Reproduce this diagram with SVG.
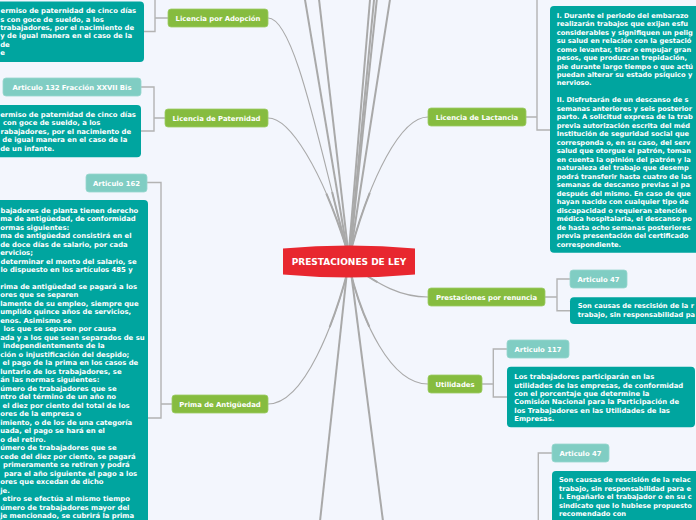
<svg xmlns="http://www.w3.org/2000/svg" width="696" height="520" viewBox="0 0 696 520">
<style>
.c{fill:none;stroke:#a9a9a9;stroke-width:1.1}
.ct{fill:none;stroke:#a9a9a9;stroke-width:2;stroke-dasharray:60 3000}
.ck{fill:none;stroke:#a9a9a9;stroke-width:2}
.br{fill:none;stroke:#b3b3b3;stroke-width:1.4}
.g{fill:#86bc3f;stroke:#9ccb66;stroke-width:0.8}
.lt{fill:#80cdc3;stroke:#98d7ce;stroke-width:0.8}
.dt{fill:#00a59f}
text{font-family:"DejaVu Sans",Verdana,sans-serif;font-weight:bold;font-size:6.85px;fill:#ffffff}
.m{text-anchor:middle}
.big{font-size:9px}
.r text{font-size:6.7px}
</style>
<rect width="696" height="520" fill="#f3f6fd"/>
<g id="connectors">
<line class="ck" x1="347" y1="250" x2="304.2" y2="-5"/>
<line class="ck" x1="348" y1="250" x2="318.5" y2="-5"/>
<line class="ck" x1="349" y1="250" x2="370.4" y2="-5"/>
<line class="ck" x1="350" y1="250" x2="374.5" y2="-5"/>
<line class="ck" x1="350.5" y1="250" x2="377.3" y2="-5"/>
<line class="ck" x1="351" y1="250" x2="390.7" y2="-5"/>
<line class="ck" x1="347" y1="272" x2="319.6" y2="525"/>
<line class="ck" x1="351" y1="272" x2="383.5" y2="525"/>
<path class="c" d="M347,250 C320,150 295,18 268,18"/>
<path class="ct" d="M347,250 C320,150 295,18 268,18"/>
<path class="c" d="M347,250 C322,170 290,118 268,118"/>
<path class="ct" d="M347,250 C322,170 290,118 268,118"/>
<path class="c" d="M351,250 C370,180 400,117 428,117"/>
<path class="ct" d="M351,250 C370,180 400,117 428,117"/>
<path class="c" d="M352,266 C380,285 400,297 428,297"/>
<path class="ct" d="M352,266 C380,285 400,297 428,297" style="stroke-dasharray:30 3000"/>
<path class="c" d="M350,270 C362,320 390,384 428,384"/>
<path class="ct" d="M350,270 C362,320 390,384 428,384"/>
<path class="c" d="M348,270 C335,320 305,404 268,404"/>
<path class="ct" d="M348,270 C335,320 305,404 268,404"/>
<path class="br" d="M155,-5 V31.5 H144 M155,18 H168"/>
<path class="br" d="M141,87 H154 V131 H141 M154,118 H165"/>
<path class="br" d="M147,182.5 H161 V418 H148 M161,404 H172"/>
<path class="br" d="M537,-5 V130 H550 M526,117 H537"/>
<path class="br" d="M545,297 H557 M570,279 H557 V310.7 H570"/>
<path class="br" d="M482,384 H493.3 M507,349 H493.3 V397 H507"/>
<path class="br" d="M552,453 H538.3 V530"/>
</g>
<g id="center">
<path d="M283,248.5 Q349,242.5 415,248.5 L415,274.5 Q349,280.5 283,274.5 Z" fill="#e8272f"/>
<text class="m big" x="349" y="265.3">PRESTACIONES DE LEY</text>
</g>
<g id="licencia-adopcion">
<rect class="g" x="168" y="9" width="100" height="18" rx="3"/>
<text class="m" x="218" y="20.6">Licencia por Adopción</text>
</g>
<g id="adopcion-texto">
<rect class="dt" x="-60" y="1.5" width="204" height="60.5" rx="4"/>
<text x="0.5" y="13">ermiso de paternidad de cinco días</text>
<text x="0.2" y="21.5">s con goce de sueldo, a los</text>
<text x="0.2" y="30">trabajadores, por el nacimiento de</text>
<text x="0.2" y="38.4">y de igual manera en el caso de la</text>
<text x="0.2" y="46.9">de</text>
<text x="0.2" y="55.4">e</text>
</g>
<g id="art132">
<rect class="lt" x="3" y="78" width="138" height="18" rx="3"/>
<text class="m" x="72" y="89.6">Articulo 132 Fracción XXVII Bis</text>
</g>
<g id="licencia-paternidad">
<rect class="g" x="165" y="109" width="103" height="18" rx="3"/>
<text class="m" x="216.5" y="120.6">Licencia de Paternidad</text>
</g>
<g id="paternidad-texto">
<rect class="dt" x="-60" y="105" width="201" height="52.3" rx="4"/>
<text x="0.2" y="116.6">ermiso de paternidad de cinco días</text>
<text x="3" y="125.1">con goce de sueldo, a los</text>
<text x="0.5" y="133.6">rabajadores, por el nacimiento de</text>
<text x="2.3" y="142">de igual manera en el caso de la</text>
<text x="0.2" y="150.5">de un infante.</text>
</g>
<g id="art162">
<rect class="lt" x="86" y="174" width="61" height="18" rx="3"/>
<text class="m" x="116.5" y="185.6">Articulo 162</text>
</g>
<g id="prima-antiguedad">
<rect class="g" x="172" y="395" width="96" height="18" rx="3"/>
<text class="m" x="220" y="406.6">Prima de Antigüedad</text>
</g>
<g id="prima-texto">
<rect class="dt" x="-60" y="200" width="208" height="440" rx="4"/>
<text x="0.5" y="212.6">bajadores de planta tienen derecho</text>
<text x="0.2" y="221.1">ma de antigüedad, de conformidad</text>
<text x="0.2" y="229.6">ormas siguientes:</text>
<text x="0.2" y="238">ma de antigüedad consistirá en el</text>
<text x="0.2" y="246.5">de doce días de salario, por cada</text>
<text x="0.2" y="255">ervicios;</text>
<text x="0.5" y="263.5">determinar el monto del salario, se</text>
<text x="0.5" y="272">lo dispuesto en los artículos 485 y</text>
<text x="0.3" y="288.9">rima de antigüedad se pagará a los</text>
<text x="0.2" y="297.4">ores que se separen</text>
<text x="0.2" y="305.9">lamente de su empleo, siempre que</text>
<text x="0.2" y="314.4">umplido quince años de servicios,</text>
<text x="0.2" y="322.9">enos. Asimismo se</text>
<text x="3.5" y="331.4">los que se separen por causa</text>
<text x="0.2" y="339.8">ada y a los que sean separados de su</text>
<text x="3" y="348.3">independientemente de la</text>
<text x="0.2" y="356.8">ción o injustificación del despido;</text>
<text x="2.5" y="365.3">el pago de la prima en los casos de</text>
<text x="0.2" y="373.8">luntario de los trabajadores, se</text>
<text x="0.2" y="382.3">án las normas siguientes:</text>
<text x="0.2" y="390.7">úmero de trabajadores que se</text>
<text x="0.2" y="399.2">ntro del término de un año no</text>
<text x="2.5" y="407.7">el diez por ciento del total de los</text>
<text x="0.2" y="416.2">ores de la empresa o</text>
<text x="0.2" y="424.7">imiento, o de los de una categoría</text>
<text x="0.2" y="433.2">uada, el pago se hará en el</text>
<text x="0.2" y="441.6">o del retiro.</text>
<text x="0.2" y="450.1">úmero de trabajadores que se</text>
<text x="0.2" y="458.6">cede del diez por ciento, se pagará</text>
<text x="3" y="467.1">primeramente se retiren y podrá</text>
<text x="4" y="475.6">para el año siguiente el pago a los</text>
<text x="0.2" y="484.1">ores que excedan de dicho</text>
<text x="0.2" y="492.5">je.</text>
<text x="2.5" y="501">etiro se efectúa al mismo tiempo</text>
<text x="0.2" y="509.5">úmero de trabajadores mayor del</text>
<text x="0.2" y="517.6">je mencionado, se cubrirá la prima</text>
</g>
<g id="licencia-lactancia">
<rect class="g" x="428" y="108" width="98" height="18" rx="3"/>
<text class="m" x="477" y="119.6">Licencia de Lactancia</text>
</g>
<g id="lactancia-texto" class="r">
<rect class="dt" x="550" y="6" width="200" height="246.7" rx="4"/>
<text x="556.7" y="17.6">I. Durante el periodo del embarazo</text>
<text x="556.7" y="26.1">realizarán trabajos que exijan esfu</text>
<text x="556.7" y="34.6">considerables y signifiquen un pelig</text>
<text x="556.7" y="43">su salud en relación con la gestació</text>
<text x="556.7" y="51.5">como levantar, tirar o empujar gran</text>
<text x="556.7" y="60">pesos, que produzcan trepidación,</text>
<text x="556.7" y="68.5">pie durante largo tiempo o que actú</text>
<text x="556.7" y="77">puedan alterar su estado psíquico y</text>
<text x="556.7" y="85.4">nervioso.</text>
<text x="556.7" y="102.4">II. Disfrutarán de un descanso de s</text>
<text x="556.7" y="110.9">semanas anteriores y seis posterior</text>
<text x="556.7" y="119.4">parto. A solicitud expresa de la trab</text>
<text x="556.7" y="127.8">previa autorización escrita del méd</text>
<text x="556.7" y="136.3">Institución de seguridad social que</text>
<text x="556.7" y="144.8">corresponda o, en su caso, del serv</text>
<text x="556.7" y="153.3">salud que otorgue el patrón, toman</text>
<text x="556.7" y="161.8">en cuenta la opinión del patrón y la</text>
<text x="556.7" y="170.2">naturaleza del trabajo que desemp</text>
<text x="556.7" y="178.7">podrá transferir hasta cuatro de las</text>
<text x="556.7" y="187.2">semanas de descanso previas al pa</text>
<text x="556.7" y="195.7">después del mismo. En caso de que</text>
<text x="556.7" y="204.2">hayan nacido con cualquier tipo de</text>
<text x="556.7" y="212.6">discapacidad o requieran atención</text>
<text x="556.7" y="221.1">médica hospitalaria, el descanso po</text>
<text x="556.7" y="229.6">de hasta ocho semanas posteriores</text>
<text x="556.7" y="238.1">previa presentación del certificado</text>
<text x="556.7" y="246.6">correspondiente.</text>
</g>
<g id="prestaciones-renuncia">
<rect class="g" x="428" y="288" width="117" height="18" rx="3"/>
<text class="m" x="486.5" y="299.6">Prestaciones por renuncia</text>
</g>
<g id="art47-renuncia">
<rect class="lt" x="570" y="270" width="57" height="18" rx="3"/>
<text class="m" x="598.5" y="281.6">Articulo 47</text>
</g>
<g id="renuncia-texto" class="r">
<rect class="dt" x="570" y="297.3" width="200" height="26.7" rx="4"/>
<text x="577.7" y="308.3">Son causas de rescisión de la r</text>
<text x="577.7" y="316.8">trabajo, sin responsabilidad pa</text>
</g>
<g id="utilidades">
<rect class="g" x="428" y="375" width="54" height="18" rx="3"/>
<text class="m" x="455" y="386.6">Utilidades</text>
</g>
<g id="art117">
<rect class="lt" x="507" y="340" width="62" height="18" rx="3"/>
<text class="m" x="538" y="351.6">Articulo 117</text>
</g>
<g id="utilidades-texto">
<rect class="dt" x="507" y="366.7" width="188" height="60.6" rx="4"/>
<text x="514.3" y="379">Los trabajadores participarán en las</text>
<text x="514.3" y="387.5">utilidades de las empresas, de conformidad</text>
<text x="514.3" y="396">con el porcentaje que determine la</text>
<text x="514.3" y="404.4">Comisión Nacional para la Participación de</text>
<text x="514.3" y="412.9">los Trabajadores en las Utilidades de las</text>
<text x="514.3" y="421.4">Empresas.</text>
</g>
<g id="art47-despido">
<rect class="lt" x="552" y="444" width="57" height="18" rx="3"/>
<text class="m" x="580.5" y="455.6">Articulo 47</text>
</g>
<g id="despido-texto" class="r">
<rect class="dt" x="552" y="471" width="200" height="80" rx="4"/>
<text x="559" y="482.3">Son causas de rescisión de la relac</text>
<text x="559" y="490.8">trabajo, sin responsabilidad para e</text>
<text x="559" y="499.3">I. Engañarlo el trabajador o en su c</text>
<text x="559" y="507.7">sindicato que lo hubiese propuesto</text>
<text x="559" y="516.2">recomendado con</text>
</g>
</svg>
